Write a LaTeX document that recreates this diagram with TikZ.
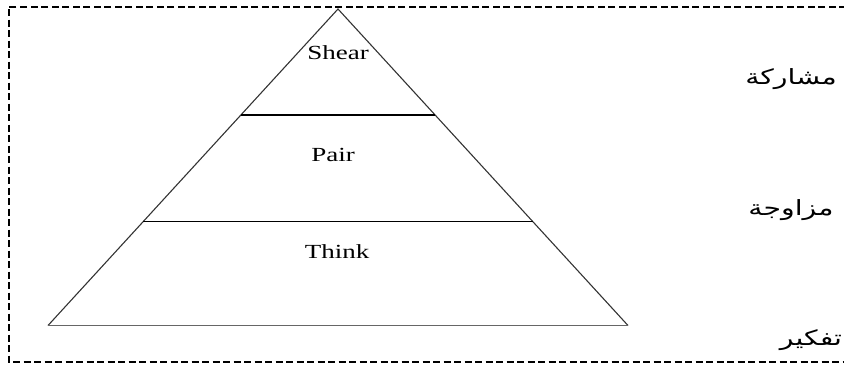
\documentclass[tikz,border=0pt]{standalone}
\usepackage{fontspec}
\usepackage{graphicx}
\setmainfont{Liberation Serif}
\newfontfamily\arabicfont[Script=Arabic]{DejaVu Sans}
\TeXXeTstate=1
\usetikzlibrary{calc}
\begin{document}
\begin{tikzpicture}[x=1pt,y=-1pt,
  side/.style={draw=black!80,line width=1.1pt},
  divider/.style={draw=black,line width=1.7pt},
  frame/.style={draw=black,line width=2pt,dash pattern=on 7pt off 3.5pt},
  level/.style={font=\fontsize{20}{24}\selectfont,inner sep=0pt},
  arlabel/.style={font=\arabicfont\fontsize{21}{24}\selectfont,inner sep=0pt}]
\useasboundingbox (0,0) rectangle (844,365);
\draw[frame] (846,6.5) -- (8.5,6.5) -- (8.5,361.5) -- (846,361.5);
\coordinate (A) at (338,9);
\coordinate (L) at (48,325.5);
\coordinate (R) at (628,325.5);
\coordinate (L1) at ($(A)!0.335!(L)$);
\coordinate (R1) at ($(A)!0.335!(R)$);
\coordinate (L2) at ($(A)!0.671!(L)$);
\coordinate (R2) at ($(A)!0.671!(R)$);
\draw[side] (L) -- (A) -- (R);
\draw[draw=black!60,line width=1.3pt] (L) -- (R);
\draw[divider] (L1) -- (R1);
\draw[divider] (L2) -- (R2);
\node[level] (shear) at (338,53) {\scalebox{1.35}[1]{Shear}};
\node[level] (pair) at (333,155) {\scalebox{1.35}[1]{Pair}};
\node[level] (think) at (337,252) {\scalebox{1.35}[1]{Think}};
\node[arlabel] (mush) at (791,79) {\scalebox{1.35}[1]{\beginR مشاركة\endR}};
\node[arlabel] (muz) at (791,210) {\scalebox{1.35}[1]{\beginR مزاوجة\endR}};
\node[arlabel] (taf) at (811,340) {\scalebox{1.35}[1]{\beginR تفكير\endR}};
\end{tikzpicture}
\end{document}
